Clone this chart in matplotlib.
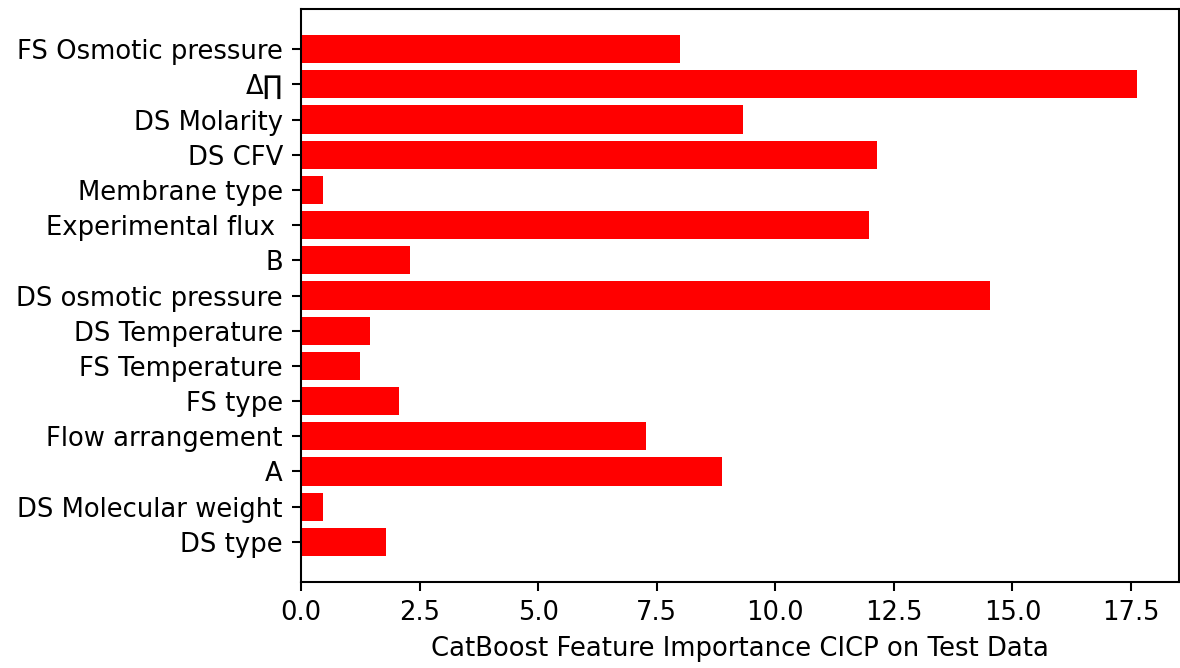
import matplotlib
matplotlib.use("Agg")
import matplotlib.pyplot as plt

# Feature names, listed from the bottom bar to the top bar
features = [
    "DS type",
    "DS Molecular weight",
    "A",
    "Flow arrangement",
    "FS type",
    "FS Temperature",
    "DS Temperature",
    "DS osmotic pressure",
    "B",
    "Experimental flux ",
    "Membrane type",
    "DS CFV",
    "DS Molarity",
    "\u0394\u220f",
    "FS Osmotic pressure",
]

# CatBoost feature importance values (same order as features)
importance = [
    1.79,
    0.47,
    8.88,
    7.28,
    2.07,
    1.24,
    1.46,
    14.53,
    2.29,
    11.97,
    0.46,
    12.14,
    9.32,
    17.63,
    7.99,
]

xlabel = "CatBoost Feature Importance CICP on Test Data"

DPI = 186
fig = plt.figure(figsize=(1180 / DPI, 668 / DPI), dpi=DPI)
ax = fig.add_axes([301 / 1180, 1 - 582 / 668, (1179 - 301) / 1180, (582 - 9) / 668])

ax.barh(features, importance, color="red")
ax.set_xlabel(xlabel)

fig.savefig("out.png", dpi=DPI)
